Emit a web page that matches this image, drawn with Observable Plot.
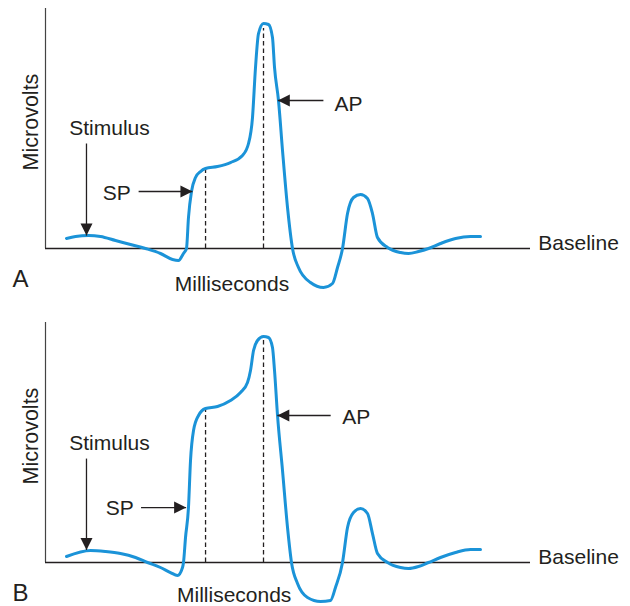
<!DOCTYPE html>
<html>
<head>
<meta charset="utf-8">
<script src="https://cdn.jsdelivr.net/npm/d3@7"></script>
<script src="https://cdn.jsdelivr.net/npm/@observablehq/plot@0.6"></script>
<style>
  html, body { margin: 0; padding: 0; background: #fff; }
  #wrap { position: relative; width: 630px; height: 606px; overflow: hidden; }
  #wrap svg { display: block; }
</style>
</head>
<body>
<div id="wrap"></div>
<script>
// ---- Panel A trace (x: time units, y: microvolt units, baseline = 0) ----
const msA = [4.33, 6.19, 8.87, 11.34, 14.43, 17.53, 20.62, 23.71, 26.19, 27.42, 28.45, 29.07, 29.48, 30.10, 30.93, 31.96, 32.99, 35.46, 38.14, 40.62, 41.86, 42.68, 43.30, 43.92, 44.95, 45.98, 46.80, 47.22, 48.04, 48.87, 49.90, 50.93, 52.16, 54.64, 57.32, 59.18, 60.21, 61.24, 62.27, 63.51, 64.95, 66.39, 67.42, 68.45, 70.52, 73.20, 74.85, 76.91, 78.97, 81.44, 84.54, 87.63, 89.69];
const uvA = [4.17, 5.0, 5.42, 5.0, 3.33, 1.67, 0, -2.08, -4.58, -5.0, -2.08, 0, 12.92, 23.75, 29.58, 32.08, 33.33, 34.17, 35.83, 38.75, 43.75, 54.58, 75.42, 89.58, 93.75, 93.33, 87.92, 75.42, 61.67, 40.83, 17.08, 0, -7.92, -14.17, -16.25, -14.58, -7.92, 0, 14.58, 21.25, 22.5, 20.83, 14.58, 4.58, 0.42, -1.67, -2.08, -1.25, 0, 2.08, 4.17, 5.0, 5.0];

// ---- Panel B trace ----
const msB = [4.33, 9.28, 12.37, 15.46, 18.56, 21.03, 23.71, 25.77, 27.22, 28.25, 28.45, 28.87, 29.48, 29.90, 30.52, 31.55, 32.99, 35.46, 38.14, 40.21, 41.65, 42.27, 42.89, 43.71, 44.95, 45.98, 46.80, 47.22, 47.84, 48.87, 49.90, 50.72, 51.96, 54.02, 56.70, 58.76, 59.79, 61.24, 62.27, 63.51, 64.95, 66.39, 67.42, 68.45, 70.52, 73.20, 74.85, 76.91, 78.97, 81.44, 84.54, 87.63, 89.69];
const uvB = [2.5, 5.0, 4.58, 3.75, 2.08, 0, -2.08, -4.17, -5.42, -2.08, 0, 10.42, 22.92, 42.5, 55.0, 61.25, 64.17, 65.0, 67.5, 70.83, 75.0, 80.0, 88.33, 92.5, 94.17, 93.75, 89.58, 80.0, 61.25, 38.33, 14.58, 0, -8.75, -14.58, -16.25, -15.83, -10.42, 0, 14.58, 20.83, 22.5, 20.42, 12.08, 3.75, 0, -2.08, -2.5, -1.67, 0, 2.08, 4.17, 5.42, 5.42];

// ---- Dashed markers (x position, top value) ----
const dashesA = [{x: 33.0, top: 33.3}, {x: 44.95, top: 91.7}];
const dashesB = [{x: 33.0, top: 64.2}, {x: 44.95, top: 93.3}];

// ---- Annotation arrows ----
const arrowsA = [
  {x1: 8.45, y1: 43.75, x2: 8.45, y2: 5.4, dir: "down"},
  {x1: 19.2, y1: 23.75, x2: 30.3, y2: 23.75, dir: "right"},
  {x1: 57.3, y1: 61.67, x2: 47.9, y2: 61.67, dir: "left"}
];
const arrowsB = [
  {x1: 8.45, y1: 43.3, x2: 8.45, y2: 5.2, dir: "down"},
  {x1: 19.7, y1: 22.9, x2: 29.0, y2: 22.9, dir: "right"},
  {x1: 58.8, y1: 61.25, x2: 47.8, y2: 61.25, dir: "left"}
];

// ---- Annotation labels ----
const labelsA = [
  {text: "Stimulus", x: 4.9, y: 49.9},
  {text: "SP", x: 11.8, y: 23.2},
  {text: "AP", x: 59.6, y: 60.3},
  {text: "Baseline", x: 101.6, y: 2.0}
];
const labelsB = [
  {text: "Stimulus", x: 4.9, y: 49.5},
  {text: "SP", x: 12.4, y: 22.5},
  {text: "AP", x: 61.2, y: 60.4},
  {text: "Baseline", x: 101.6, y: 2.0}
];
const xTitle = "Milliseconds";
const yTitle = "Microvolts";
const titlePosA = {x: 38.45, y: -15.0};
const titlePosB = {x: 38.9, y: -13.75};
const letters = ["A", "B"];

const INK = "#231f20";
const BLUE = "#1b93d8";
const FONT = "'Liberation Sans', Arial, Helvetica, sans-serif";

// filled triangular arrowheads with tip at the origin
const headDown = {draw(c) { c.moveTo(0, 0); c.lineTo(-6, -12); c.lineTo(6, -12); c.closePath(); }};
const headRight = {draw(c) { c.moveTo(0, 0); c.lineTo(-12, -6); c.lineTo(-12, 6); c.closePath(); }};
const headLeft = {draw(c) { c.moveTo(0, 0); c.lineTo(12, -6); c.lineTo(12, 6); c.closePath(); }};
const heads = {down: headDown, right: headRight, left: headLeft};

function panel(letter, ms, uv, dashes, arrows, labels, titlePos, height, marginBottom) {
  const trace = ms.map((x, i) => ({x, y: uv[i]}));
  return Plot.plot({
    width: 630,
    height,
    marginLeft: 45,
    marginRight: 100,
    marginTop: 8,
    marginBottom,
    x: {domain: [0, 100], axis: null},
    y: {domain: [-18.33, 100], axis: null},
    style: {fontFamily: FONT, overflow: "visible", background: "white"},
    marks: [
      Plot.ruleX([0], {y1: 0, y2: 100, stroke: "#444", strokeWidth: 1.2}),
      Plot.ruleY([0], {x1: 0, x2: 100, stroke: INK, strokeWidth: 1.3}),
      Plot.ruleX(dashes, {x: "x", y1: 0, y2: "top", stroke: INK, strokeWidth: 1.3, strokeDasharray: "4.5,3"}),
      Plot.line(trace, {x: "x", y: "y", curve: "monotone-x", stroke: BLUE, strokeWidth: 3}),
      Plot.link(arrows, {x1: "x1", y1: "y1", x2: "x2", y2: "y2", stroke: INK, strokeWidth: 1.3}),
      ...["down", "right", "left"].map(d =>
        Plot.dot(arrows.filter(a => a.dir === d), {x: "x2", y: "y2", r: 5, symbol: heads[d], fill: INK, stroke: "none"})
      ),
      Plot.text(labels, {x: "x", y: "y", text: "text", textAnchor: "start", fontSize: 21, fill: INK}),
      Plot.text([xTitle], {x: titlePos.x, y: titlePos.y, text: d => d, textAnchor: "middle", fontSize: 21, fill: INK}),
      Plot.text([yTitle], {x: -2.93, y: 52.7, text: d => d, textAnchor: "middle", rotate: -90, fontSize: 21.5, fill: INK}),
      Plot.text([letter], {x: -6.8, y: -13.0, text: d => d, textAnchor: "start", fontSize: 24, fill: INK})
    ]
  });
}

const wrap = document.getElementById("wrap");
wrap.appendChild(panel(letters[0], msA, uvA, dashesA, arrowsA, labelsA, titlePosA, 314, 22));
wrap.appendChild(panel(letters[1], msB, uvB, dashesB, arrowsB, labelsB, titlePosB, 292, 0));
</script>
</body>
</html>
